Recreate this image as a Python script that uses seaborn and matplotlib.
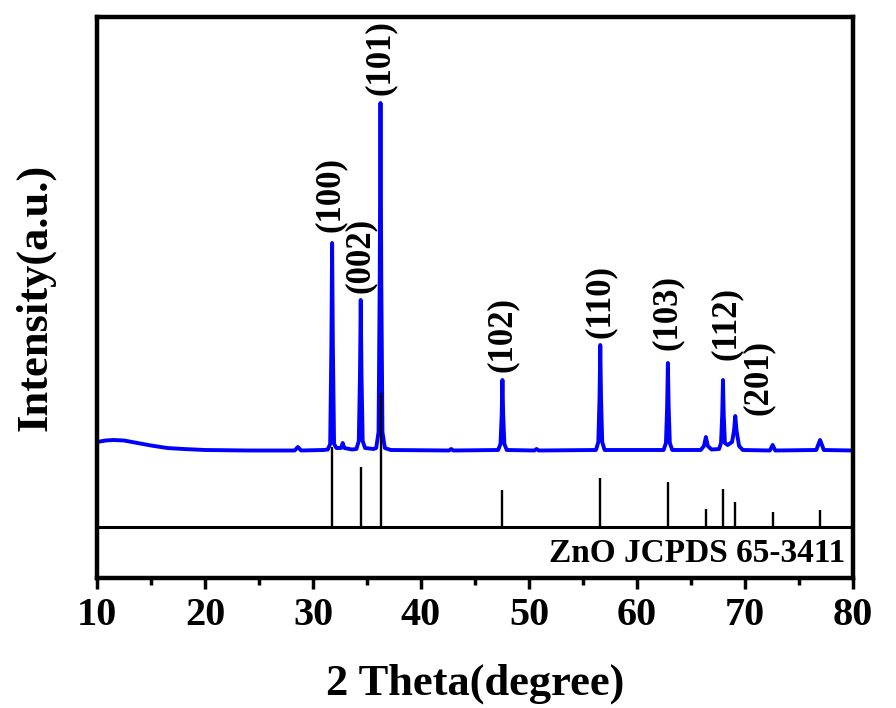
import matplotlib
matplotlib.use("Agg")
import matplotlib.pyplot as plt
import seaborn as sns
import pandas as pd
from matplotlib.ticker import MultipleLocator

# ---- data ----
two_theta = [10.0, 10.8, 11.5, 12.5, 13.5, 15.0, 16.5, 18.0, 20.0, 24.0,
             28.3, 28.6, 28.9, 31.0, 31.37, 31.59, 31.70, 31.77, 31.84, 31.95,
             32.17, 32.6, 32.75, 32.9, 33.6, 34.02, 34.24, 34.35, 34.42, 34.49,
             34.60, 34.82, 35.6, 35.85, 36.07, 36.18, 36.25, 36.32, 36.43, 36.65,
             37.2, 42.6, 42.8, 43.0, 47.14, 47.36, 47.47, 47.54, 47.61, 47.72,
             47.94, 50.5, 50.7, 50.9, 56.2, 56.42, 56.53, 56.6, 56.67, 56.78,
             57.0, 62.46, 62.68, 62.79, 62.86, 62.93, 63.04, 63.26, 65.9, 66.2,
             66.38, 66.56, 66.9, 67.6, 67.78, 67.89, 67.96, 68.03, 68.14, 68.4,
             68.8, 68.98, 69.1, 69.22, 69.45, 69.8, 72.3, 72.56, 72.8, 76.6,
             76.95, 77.3, 80.0]
intensity = [136, 137.5, 138, 137.5, 135.5, 132.5, 130, 129, 128, 127.5,
             127.5, 131, 127.5, 128, 128.5, 134, 231, 335, 231, 134,
             130, 130, 135, 130, 128.5, 129, 137, 203, 278, 203,
             137, 130, 129, 130, 146, 301, 475, 301, 146, 130,
             128, 127.5, 129, 127.5, 128, 134, 163, 198, 163, 134,
             128, 127.5, 129, 127.5, 128, 136, 180, 233, 180, 136,
             128, 128, 135, 171, 215, 171, 135, 128, 128, 132,
             141, 132, 128.5, 129, 135, 163, 198, 163, 135, 133,
             136, 147, 162, 147, 132, 128, 127.5, 133, 127.5, 128,
             138, 128, 127.5]

ref_pos = [31.77, 34.42, 36.25, 47.54, 56.6, 62.86, 66.38, 67.96, 69.1, 72.56, 76.95]
ref_top = [131, 111, 185, 88, 100, 96, 69, 89, 76, 66, 68]
ref_base = 51

hkl_labels = ["(100)", "(002)", "(101)", "(102)", "(110)", "(103)", "(112)", "(201)"]
hkl_x = [31.6, 34.4, 36.25, 47.54, 56.6, 62.8, 68.3, 71.2]
hkl_y = [346, 285, 483, 206, 240, 228, 218, 163]

x_ticks = [10, 20, 30, 40, 50, 60, 70, 80]
card_text = "ZnO JCPDS 65-3411"

# ---- style ----
sns.set_style("ticks")
plt.rcParams["font.family"] = ["Liberation Serif", "DejaVu Serif"]
plt.rcParams["font.weight"] = "bold"
plt.rcParams["text.color"] = "black"
plt.rcParams["axes.labelcolor"] = "black"
plt.rcParams["xtick.color"] = "black"
plt.rcParams["ytick.color"] = "black"

fig = plt.figure(figsize=(8.96, 7.08), dpi=100)
ax = fig.add_axes([97 / 896, 1 - 578 / 708, 756 / 896, 561 / 708])

df = pd.DataFrame({"two_theta": two_theta, "intensity": intensity})
sns.lineplot(data=df, x="two_theta", y="intensity", ax=ax, color="#0000ff",
             linewidth=2.8, estimator=None, sort=False, zorder=2)

ax.vlines(ref_pos, ref_base, ref_top, colors="black", linewidth=1.7, zorder=3)
ax.axhline(ref_base, color="black", linewidth=2.2, zorder=3)

for lab, lx, ly in zip(hkl_labels, hkl_x, hkl_y):
    ax.text(lx, ly, lab, rotation=90, ha="center", va="bottom",
            fontsize=25, fontweight="bold", color="black")

ax.text(79.3, 25, card_text, ha="right", va="center", fontsize=24,
        fontweight="bold", color="black")

ax.set_xlim(10, 80)
ax.set_ylim(0, 561)
ax.set_xticks(x_ticks)
ax.xaxis.set_minor_locator(MultipleLocator(5))
ax.set_yticks([])
ax.tick_params(axis="x", which="major", direction="out", length=8, width=2.5,
               labelsize=29, pad=6, colors="black")
ax.tick_params(axis="x", which="minor", direction="out", length=5, width=2.5,
               colors="black")
for lbl in ax.get_xticklabels():
    lbl.set_fontweight("bold")
for sp in ax.spines.values():
    sp.set_visible(True)
    sp.set_linewidth(3.2)
    sp.set_color("black")

ax.set_xlabel("2 Theta(degree)", fontsize=32, fontweight="bold", labelpad=21,
              color="black")
ax.set_ylabel("Intensity(a.u.)", fontsize=32, fontweight="bold", labelpad=30,
              color="black")

fig.savefig("out.png", dpi=100)
